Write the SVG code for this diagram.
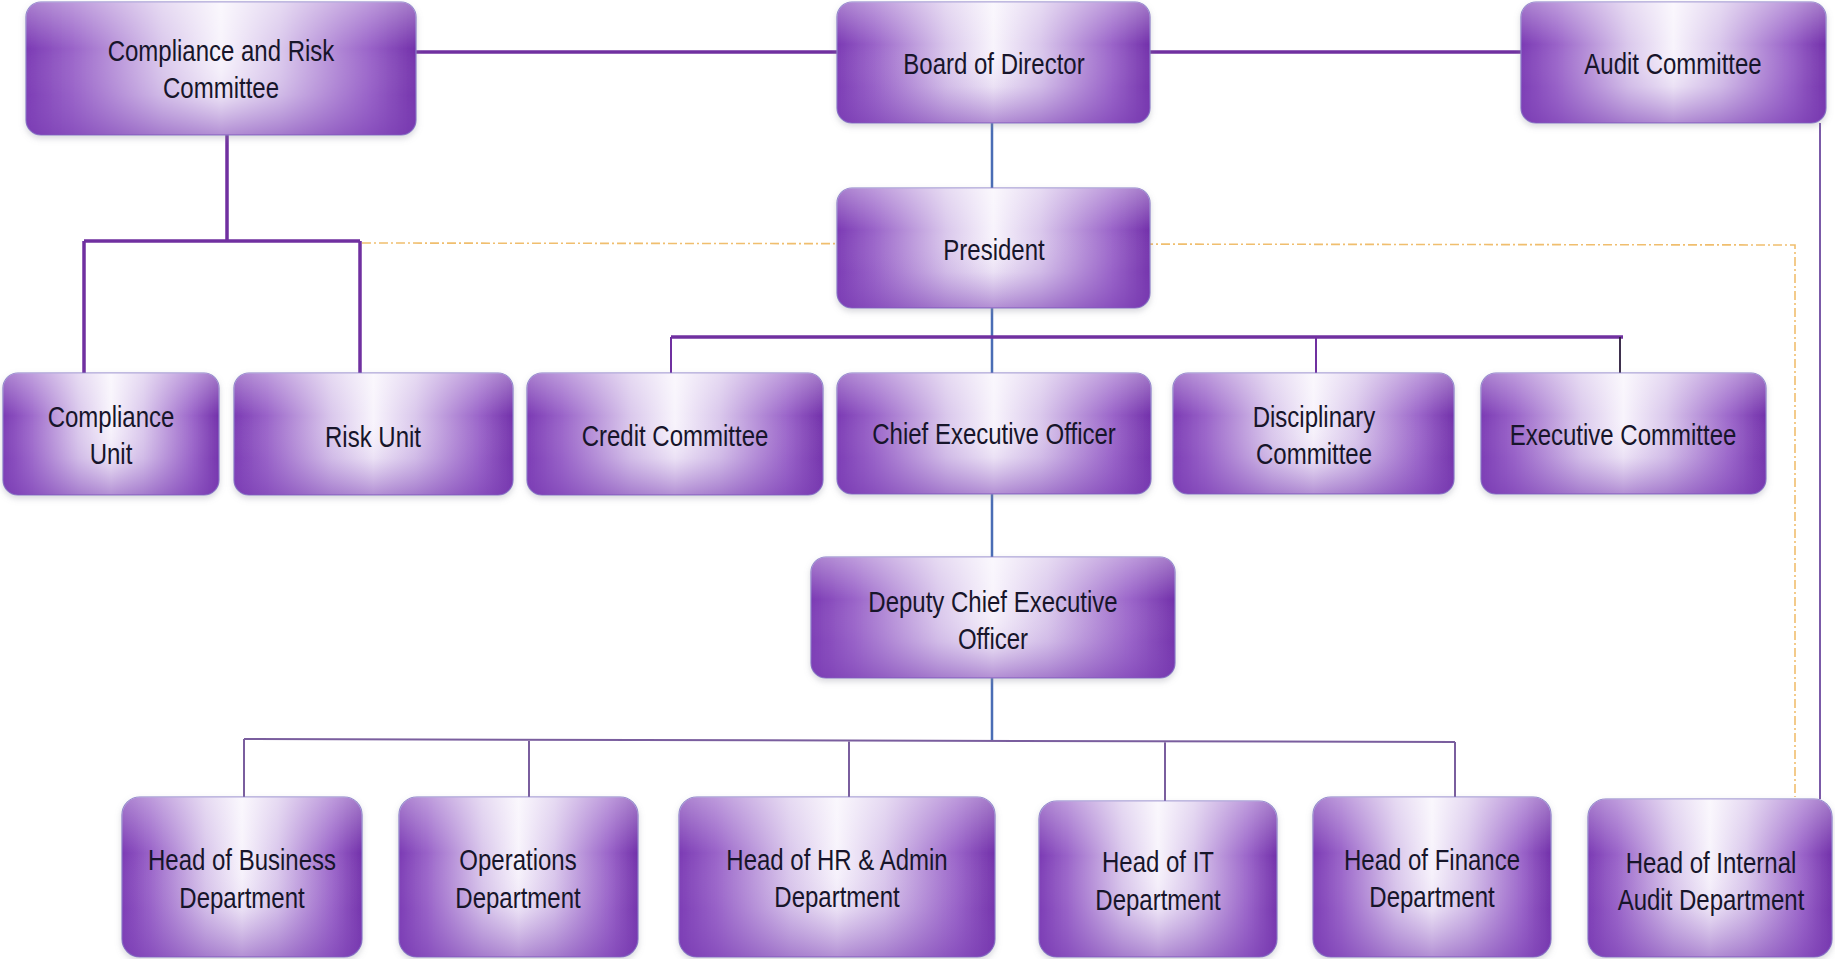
<svg xmlns="http://www.w3.org/2000/svg" width="1835" height="959" viewBox="0 0 1835 959">
<defs>
<linearGradient id="gh" x1="0" y1="0" x2="1" y2="0">
<stop offset="0" stop-color="#7b3ab4"/>
<stop offset="0.12" stop-color="#9a64c9"/>
<stop offset="0.35" stop-color="#dac8ec"/>
<stop offset="0.5" stop-color="#f8f4fc"/>
<stop offset="0.65" stop-color="#dac8ec"/>
<stop offset="0.88" stop-color="#9a64c9"/>
<stop offset="1" stop-color="#7230aa"/>
</linearGradient>
<linearGradient id="gv" x1="0" y1="0" x2="0" y2="1">
<stop offset="0" stop-color="#ffffff" stop-opacity="0.35"/>
<stop offset="0.35" stop-color="#ffffff" stop-opacity="0"/>
<stop offset="0.7" stop-color="#8a55c0" stop-opacity="0.12"/>
<stop offset="1" stop-color="#7a3db3" stop-opacity="0.55"/>
</linearGradient>
<filter id="sh" x="-5%" y="-5%" width="110%" height="120%">
<feDropShadow dx="0" dy="3" stdDeviation="3" flood-color="#8a8a9a" flood-opacity="0.35"/>
</filter>
</defs>
<style>
.b{fill:url(#gh);stroke:#8a7cc8;stroke-width:1.2;filter:url(#sh)}
.o{fill:url(#gv);stroke:none}
.t{font-family:"Liberation Sans",Arial,sans-serif;font-size:30px;fill:#17152a;text-anchor:middle}
.p{stroke:#7030a0;stroke-width:3.5;fill:none}
.pt{stroke:#7030a0;stroke-width:2;fill:none}
.bl{stroke:#4a6db5;stroke-width:2.5;fill:none}
.g{stroke:#7a5e9e;stroke-width:2;fill:none}
.d{stroke:#f0be6e;stroke-width:1.6;fill:none;stroke-dasharray:9 3 2 3}
</style>
<rect width="1835" height="959" fill="#ffffff"/>
<g id="connectors">
<path class="d" d="M362 243 L1795 245 L1795 797"/>
<path class="p" d="M416 52 H837 M1150 52 H1521"/>
<path class="p" d="M227 135 V241 M84 241 H360 M84 241 V373 M360 241 V373"/>
<path class="bl" d="M992 123 V188 M992 308 V373 M992 494 V557 M992 678 V740"/>
<path class="p" d="M671 337 H1623"/>
<path class="pt" d="M671 337 V373 M1316 337 V373"/>
<path d="M1620 337 V373" stroke="#2a1a3a" stroke-width="1.8" fill="none"/>
<path class="g" d="M244 739 L1455 742 M244 739 V797 M529 740 V797 M849 740 V797 M1165 741 V801 M1455 742 V797"/>
<path d="M1820 123 V799" stroke="#7b5aa8" stroke-width="2" fill="none"/>
</g>
<g id="n-crc"><rect class="b" x="26" y="2" width="390" height="133" rx="15"/><rect class="o" x="26" y="2" width="390" height="133" rx="15"/>
<text class="t" transform="translate(221 61) scale(0.8 1)">Compliance and Risk</text><text class="t" transform="translate(221 98) scale(0.8 1)">Committee</text></g>
<g id="n-board"><rect class="b" x="837" y="2" width="313" height="121" rx="15"/><rect class="o" x="837" y="2" width="313" height="121" rx="15"/>
<text class="t" transform="translate(994 74) scale(0.8 1)">Board of Director</text></g>
<g id="n-audit"><rect class="b" x="1521" y="2" width="305" height="121" rx="15"/><rect class="o" x="1521" y="2" width="305" height="121" rx="15"/>
<text class="t" transform="translate(1673 74) scale(0.8 1)">Audit Committee</text></g>
<g id="n-president"><rect class="b" x="837" y="188" width="313" height="120" rx="15"/><rect class="o" x="837" y="188" width="313" height="120" rx="15"/>
<text class="t" transform="translate(994 260) scale(0.8 1)">President</text></g>
<g id="n-compliance-unit"><rect class="b" x="3" y="373" width="216" height="122" rx="15"/><rect class="o" x="3" y="373" width="216" height="122" rx="15"/>
<text class="t" transform="translate(111 427) scale(0.8 1)">Compliance</text><text class="t" transform="translate(111 464) scale(0.8 1)">Unit</text></g>
<g id="n-risk-unit"><rect class="b" x="234" y="373" width="279" height="122" rx="15"/><rect class="o" x="234" y="373" width="279" height="122" rx="15"/>
<text class="t" transform="translate(373 447) scale(0.8 1)">Risk Unit</text></g>
<g id="n-credit"><rect class="b" x="527" y="373" width="296" height="122" rx="15"/><rect class="o" x="527" y="373" width="296" height="122" rx="15"/>
<text class="t" transform="translate(675 446) scale(0.8 1)">Credit Committee</text></g>
<g id="n-ceo"><rect class="b" x="837" y="373" width="314" height="121" rx="15"/><rect class="o" x="837" y="373" width="314" height="121" rx="15"/>
<text class="t" transform="translate(994 444) scale(0.8 1)">Chief Executive Officer</text></g>
<g id="n-disciplinary"><rect class="b" x="1173" y="373" width="281" height="121" rx="15"/><rect class="o" x="1173" y="373" width="281" height="121" rx="15"/>
<text class="t" transform="translate(1314 427) scale(0.8 1)">Disciplinary</text><text class="t" transform="translate(1314 464) scale(0.8 1)">Committee</text></g>
<g id="n-exec"><rect class="b" x="1481" y="373" width="285" height="121" rx="15"/><rect class="o" x="1481" y="373" width="285" height="121" rx="15"/>
<text class="t" transform="translate(1623 445) scale(0.8 1)">Executive Committee</text></g>
<g id="n-deputy"><rect class="b" x="811" y="557" width="364" height="121" rx="15"/><rect class="o" x="811" y="557" width="364" height="121" rx="15"/>
<text class="t" transform="translate(993 612) scale(0.8 1)">Deputy Chief Executive</text><text class="t" transform="translate(993 649) scale(0.8 1)">Officer</text></g>
<g id="n-business"><rect class="b" x="122" y="797" width="240" height="160" rx="18"/><rect class="o" x="122" y="797" width="240" height="160" rx="18"/>
<text class="t" transform="translate(242 870) scale(0.8 1)">Head of Business</text><text class="t" transform="translate(242 908) scale(0.8 1)">Department</text></g>
<g id="n-operations"><rect class="b" x="399" y="797" width="239" height="160" rx="18"/><rect class="o" x="399" y="797" width="239" height="160" rx="18"/>
<text class="t" transform="translate(518 870) scale(0.8 1)">Operations</text><text class="t" transform="translate(518 908) scale(0.8 1)">Department</text></g>
<g id="n-hr"><rect class="b" x="679" y="797" width="316" height="160" rx="18"/><rect class="o" x="679" y="797" width="316" height="160" rx="18"/>
<text class="t" transform="translate(837 870) scale(0.8 1)">Head of HR &amp; Admin</text><text class="t" transform="translate(837 907) scale(0.8 1)">Department</text></g>
<g id="n-it"><rect class="b" x="1039" y="801" width="238" height="156" rx="18"/><rect class="o" x="1039" y="801" width="238" height="156" rx="18"/>
<text class="t" transform="translate(1158 872) scale(0.8 1)">Head of IT</text><text class="t" transform="translate(1158 910) scale(0.8 1)">Department</text></g>
<g id="n-finance"><rect class="b" x="1313" y="797" width="238" height="160" rx="18"/><rect class="o" x="1313" y="797" width="238" height="160" rx="18"/>
<text class="t" transform="translate(1432 870) scale(0.8 1)">Head of Finance</text><text class="t" transform="translate(1432 907) scale(0.8 1)">Department</text></g>
<g id="n-internal-audit"><rect class="b" x="1588" y="799" width="244" height="158" rx="18"/><rect class="o" x="1588" y="799" width="244" height="158" rx="18"/>
<text class="t" transform="translate(1711 873) scale(0.8 1)">Head of Internal</text><text class="t" transform="translate(1711 910) scale(0.8 1)">Audit Department</text></g>
</svg>
